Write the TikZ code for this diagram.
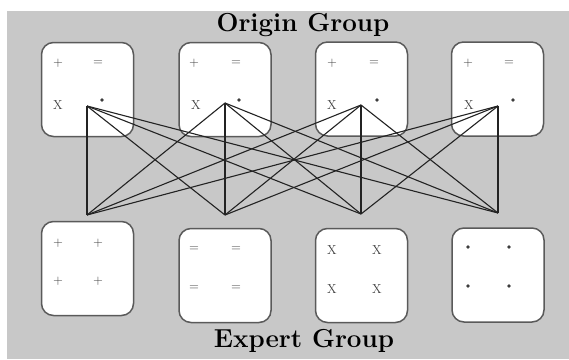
\documentclass[tikz,border=0pt]{standalone}
\usepackage{fontspec}
\definecolor{bggray}{RGB}{200,200,200}
\definecolor{boxedge}{RGB}{90,90,90}
\definecolor{linkcol}{RGB}{35,35,35}
\definecolor{symcol}{RGB}{60,60,60}
\begin{document}
\begin{tikzpicture}[x=1pt,y=-1pt,
  groupbox/.style={draw=boxedge,line width=1.5pt,fill=white,rounded corners=12pt,
    minimum width=92pt,minimum height=94pt,inner sep=0pt},
  sym/.style={text=symcol,font=\fontsize{13}{13}\selectfont,inner sep=0pt},
  dotsym/.style={circle,fill=symcol,minimum size=3.6pt,inner sep=0pt},
  link/.style={draw=linkcol,line width=1.1pt},
  title/.style={font=\fontsize{26}{29}\selectfont\bfseries,inner sep=0pt,anchor=base}]
\useasboundingbox (0,0) rectangle (569,359);
\fill[bggray] (7,11) rectangle (569,359);

% origin (top) groups
\node[groupbox] (o1) at (87.5,89.5) {};
\node[groupbox] (o2) at (225,89.5) {};
\node[groupbox] (o3) at (361.5,89) {};
\node[groupbox] (o4) at (497.5,89) {};
% expert (bottom) groups
\node[groupbox] (e1) at (87.5,268.5) {};
\node[groupbox] (e2) at (225,275.5) {};
\node[groupbox] (e3) at (361.5,275.5) {};
\node[groupbox] (e4) at (498,275) {};

% hub points where the connectors meet
\coordinate (ho1) at (87,106);
\coordinate (ho2) at (225,103);
\coordinate (ho3) at (361,105);
\coordinate (ho4) at (498,106);
\coordinate (he1) at (87,215);
\coordinate (he2) at (225,215);
\coordinate (he3) at (361,214);
\coordinate (he4) at (498,213);

% every origin member meets every expert group
\foreach \a in {1,2,3,4}{
  \foreach \b in {1,2,3,4}{
    \draw[link] (ho\a) -- (he\b);
  }
}

% symbols in the origin groups
\node[sym] (o1p) at (58,63) {+};
\node[sym] (o1e) at (98,63) {=};
\node[sym] (o1x) at (58,105) {X};
\node[dotsym] (o1d) at (102,100) {};
\node[sym] (o2p) at (194,63) {+};
\node[sym] (o2e) at (236,63) {=};
\node[sym] (o2x) at (196,105) {X};
\node[dotsym] (o2d) at (239,100) {};
\node[sym] (o3p) at (332,63) {+};
\node[sym] (o3e) at (374,63) {=};
\node[sym] (o3x) at (332,105) {X};
\node[dotsym] (o3d) at (377,100) {};
\node[sym] (o4p) at (468,63) {+};
\node[sym] (o4e) at (509,63) {=};
\node[sym] (o4x) at (469,105) {X};
\node[dotsym] (o4d) at (513,100) {};

% symbols in the expert groups
\node[sym] (e1a) at (58,243) {+};
\node[sym] (e1b) at (98,243) {+};
\node[sym] (e1c) at (58,281) {+};
\node[sym] (e1d) at (98,281) {+};
\node[sym] (e2a) at (194,249) {=};
\node[sym] (e2b) at (236,249) {=};
\node[sym] (e2c) at (194,288) {=};
\node[sym] (e2d) at (236,288) {=};
\node[sym] (e3a) at (332,250) {X};
\node[sym] (e3b) at (377,250) {X};
\node[sym] (e3c) at (332,289) {X};
\node[sym] (e3d) at (377,289) {X};
\node[dotsym] (e4a) at (468,247) {};
\node[dotsym] (e4b) at (509,247) {};
\node[dotsym] (e4c) at (468,286) {};
\node[dotsym] (e4d) at (509,286) {};

% titles
\node[title] (torigin) at (303,31) {Origin Group};
\node[title] (texpert) at (304,347) {Expert Group};
\end{tikzpicture}
\end{document}
